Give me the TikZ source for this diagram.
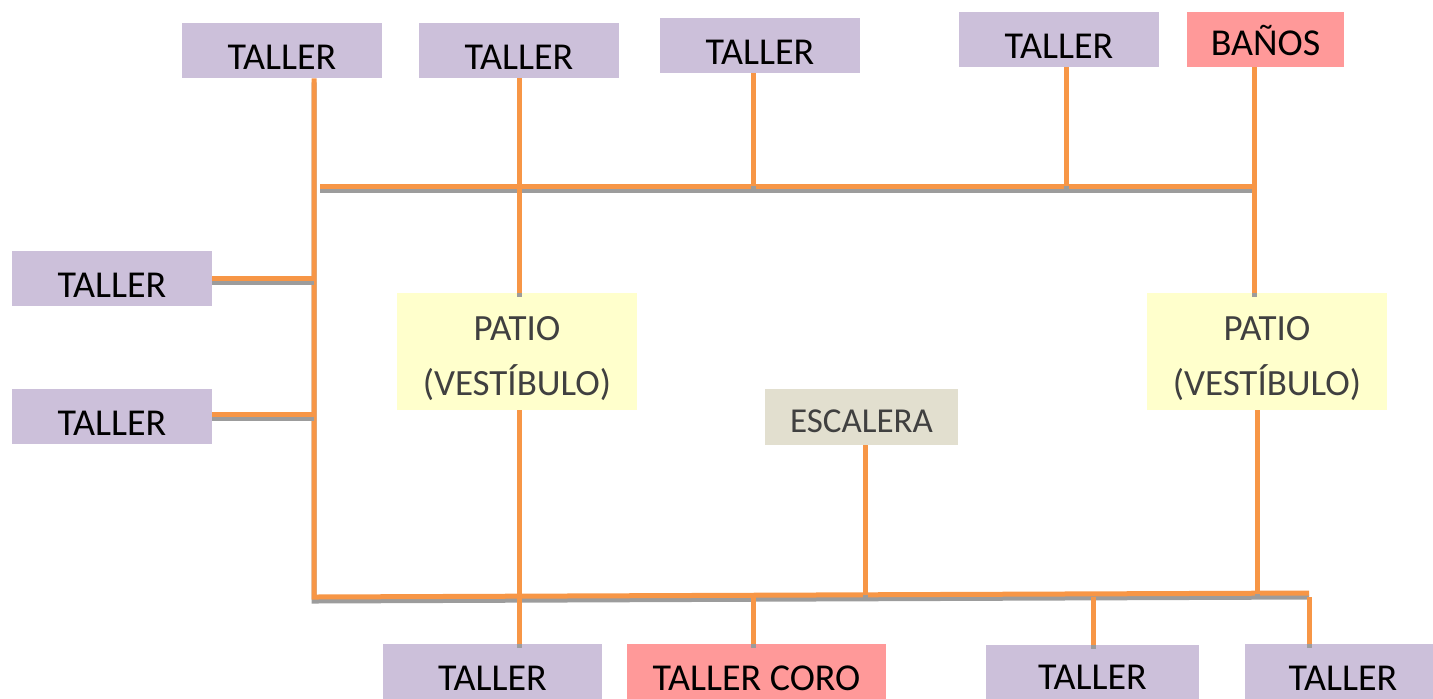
\documentclass[tikz,border=0pt]{standalone}
\usepackage{fontspec}
\setmainfont{Carlito}
\definecolor{lavender}{HTML}{CCC0DA}
\definecolor{rosepink}{HTML}{FF9999}
\definecolor{paleyellow}{HTML}{FFFFCC}
\definecolor{stairgray}{HTML}{E2DFCF}
\definecolor{lineorange}{HTML}{F79646}
\definecolor{shadowgray}{HTML}{9C9C9C}
\definecolor{textgray}{HTML}{404040}
\newcommand{\patiotext}{\rule{0pt}{19pt}PATIO\\(VESTÍBULO)}
\tikzset{
  room/.style={fill=lavender, inner sep=0pt, minimum height=27.5pt,
    font=\fontsize{19}{23}\selectfont, text height=19pt, text depth=0pt},
  wet/.style={room, fill=rosepink},
  patio/.style={fill=paleyellow, inner sep=0pt, minimum width=120pt,
    minimum height=58.5pt, align=center, text=textgray,
    font=\fontsize{18.5}{27.5}\selectfont},
  stair/.style={fill=stairgray, inner sep=0pt, minimum width=96.5pt,
    minimum height=28pt, text=textgray, text height=15pt, text depth=0pt,
    font=\fontsize{17.5}{21}\selectfont},
  link/.style={line width=2.5pt, draw=lineorange,
    preaction={draw=shadowgray, line width=2.5pt, transform canvas={yshift=-2pt}}}
}
\begin{document}
\begin{tikzpicture}[x=0.5pt, y=-0.5pt]
        \useasboundingbox (0,0) rectangle (1433,698);
        % top row
        \node[room, minimum width=100pt] (t1) at (282, 50.5) {TALLER};
        \node[room, minimum width=100pt] (t2) at (519, 50.5) {TALLER};
        \node[room, minimum width=100pt] (t3) at (760, 45.5) {TALLER};
        \node[room, minimum width=100pt] (t4) at (1059, 39.5) {TALLER};
        \node[wet, minimum width=78.5pt, text height=15.5pt] (ba) at (1265.5, 39.5) {BAÑOS};
        % left side
        \node[room, minimum width=100pt] (l1) at (112, 278.5) {TALLER};
        \node[room, minimum width=100pt] (l2) at (112, 416.5) {TALLER};
        % middle
        \node[patio] (p1) at (517, 351.5) {\patiotext};
        \node[patio] (p2) at (1267, 351.5) {\patiotext};
        \node[stair] (es) at (861.5, 417) {ESCALERA};
        % bottom row
        \node[room, minimum width=109.5pt] (b1) at (492.5, 671.5) {TALLER};
        \node[wet, minimum width=129.5pt] (b2) at (756.5, 671.5) {TALLER CORO};
        \node[room, minimum width=106.5pt, text height=17pt] (b3) at (1092.5, 672.5) {TALLER};
        \node[room, minimum width=98pt] (b4) at (1343, 671.5) {TALLER};
        % define bus points
        \coordinate (tl) at (320, 186);
        \coordinate (tr) at (1254, 186);
        \coordinate (jt3) at (753, 186);
        \coordinate (jt4) at (1066, 186);
        \coordinate (bl) at (314, 597);
        \coordinate (br) at (1309, 593);
        \coordinate (jb2) at (753, 595);
        \coordinate (jes) at (865, 595);
        \coordinate (jb3) at (1093, 597);
        \coordinate (jp2) at (1257, 594);
        \coordinate (jb4) at (1309, 597);
        % buses
        \draw[link] (tl) -- (tr);
        \draw[link] ([xshift=16pt]t1.south) -- (bl) -- (br);
        % top branches
        \draw[link] (t2.south) -- (t2.south |- p1.north);
        \draw[link] ([xshift=-3.5pt]t3.south) -- (jt3);
        \draw[link] ([xshift=3.5pt]t4.south) -- (jt4);
        \draw[link] (tr |- ba.south) -- (tr |- p2.north);
        % left branches
        \draw[link] (l1.east) -- (l1.east -| bl);
        \draw[link] ([yshift=1pt]l2.east) -- ([yshift=1pt]l2.east -| bl);
        % bottom branches
        \draw[link] (t2.south |- p1.south) -- (t2.south |- b1.north);
        \draw[link] (jb2) -- (jb2 |- b2.north);
        \draw[link] (jes |- es.south) -- (jes);
        \draw[link] (jp2 |- p2.south) -- (jp2);
        \draw[link] (jb3) -- (jb3 |- b3.north);
        \draw[link] (jb4) -- (jb4 |- b4.north);
\end{tikzpicture}
\end{document}
